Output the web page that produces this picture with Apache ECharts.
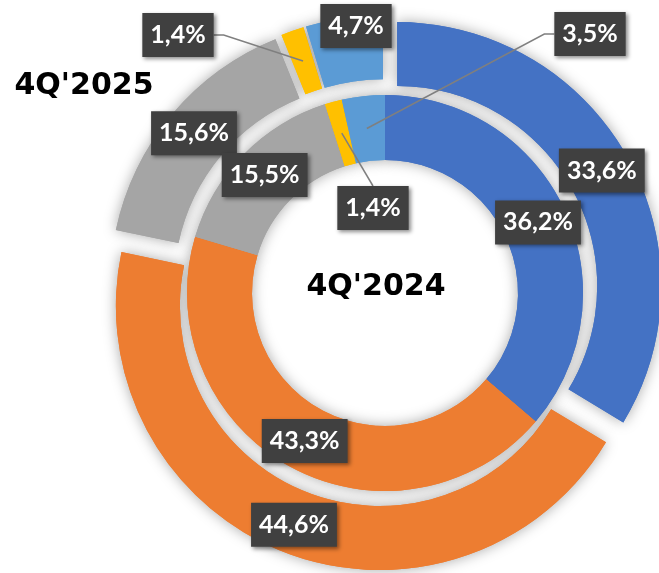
<!DOCTYPE html>
<html>
<head>
<meta charset="utf-8">
<script src="https://cdn.jsdelivr.net/npm/echarts@6/dist/echarts.min.js"></script>
<style>
  html, body { margin: 0; padding: 0; background: #ffffff; }
  #chart { width: 659px; height: 573px; }
</style>
</head>
<body>
<div id="chart"></div>
<script>
// ---- data ----
const categories = ['A', 'B', 'C', 'D', 'E'];
const colors = ['#4472C4', '#ED7D31', '#A5A5A5', '#FFC000', '#5B9BD5'];
const periods = ["4Q'2025", "4Q'2024"];
const values2025 = [33.6, 44.6, 15.6, 1.4, 4.7];   // outer ring
const values2024 = [36.2, 43.3, 15.5, 1.4, 3.5];   // inner ring

// ---- layout ----
const CENTER = [385, 293];
const INNER_R = [133, 198];
const OUTER_R = [200, 264];
const EXPLODE = 14;
// labels of thin slices are pulled out (optionally joined by a leader line)
const callouts = {
  outer: { 3: { at: [178, 35], side: 'right' }, 4: { at: [356, 26], side: 'none' } },
  inner: { 3: { at: [373, 208], side: 'top' }, 4: { at: [590, 34], side: 'left' } }
};

const fmt = v => v.toFixed(1).replace('.', ',') + '%';

function sliceMidPoint(values, idx, r) {
  const total = values.reduce((s, v) => s + v, 0);
  let cum = 0;
  for (let i = 0; i < idx; i++) cum += values[i];
  const a = (90 - (cum + values[idx] / 2) / total * 360) * Math.PI / 180;
  return [CENTER[0] + r * Math.cos(a), CENTER[1] - r * Math.sin(a)];
}

const labelStyle = {
  show: true,
  position: 'inside',
  formatter: p => fmt(p.value),
  color: '#ffffff',
  fontFamily: 'Lato',
  fontWeight: 'bold',
  fontSize: 25,
  lineHeight: 26,
  backgroundColor: '#404040',
  padding: [9, 8, 9, 8],
  shadowColor: 'rgba(0,0,0,0.45)',
  shadowBlur: 4,
  shadowOffsetX: 2,
  shadowOffsetY: 2
};

function layoutFor(ring, values, rMid) {
  return function (params) {
    const c = callouts[ring][params.dataIndex];
    if (!c) return { hideOverlap: false };
    const w = params.labelRect.width, h = params.labelRect.height;
    const anchor = sliceMidPoint(values, params.dataIndex, rMid);
    let end, knee;
    if (c.side === 'right') {
      end = [c.at[0] + w / 2, c.at[1]]; knee = [end[0] + 10, end[1]];
    } else if (c.side === 'left') {
      end = [c.at[0] - w / 2, c.at[1]]; knee = [end[0] - 10, end[1]];
    } else if (c.side === 'top') {
      end = [c.at[0], c.at[1] - h / 2]; knee = end;
    } else {
      end = anchor; knee = anchor;
    }
    return {
      x: c.at[0], y: c.at[1],
      align: 'center', verticalAlign: 'middle',
      hideOverlap: false,
      labelLinePoints: [anchor, knee, end]
    };
  };
}

const shadowStyle = {
  shadowBlur: 14,
  shadowColor: 'rgba(0,0,0,0.35)',
  shadowOffsetX: 0,
  shadowOffsetY: 0
};

const basePie = (name, radius, exploded) => ({
  type: 'pie',
  name: name,
  center: CENTER,
  radius: radius,
  startAngle: 90,
  clockwise: true,
  selectedMode: exploded ? 'multiple' : false,
  selectedOffset: EXPLODE,
  avoidLabelOverlap: false,
  animation: false,
  emphasis: { disabled: true }
});

// soft drop shadow under a ring
function shadowSeries(name, values, radius, exploded) {
  return Object.assign(basePie(name + ' shadow', radius, exploded), {
    silent: true, z: 1,
    itemStyle: shadowStyle,
    label: { show: false }, labelLine: { show: false },
    data: values.map((v, i) => ({ name: categories[i], value: v, selected: exploded, itemStyle: { color: colors[i] } }))
  });
}

// the coloured ring with its in-slice labels
function ringSeries(name, values, ring, radius, exploded) {
  return Object.assign(basePie(name, radius, exploded), {
    z: 2,
    itemStyle: { borderWidth: 0 },
    label: labelStyle,
    labelLine: { show: false },
    labelLayout: { hideOverlap: false },
    data: values.map((v, i) => ({
      name: categories[i], value: v, selected: exploded,
      itemStyle: { color: colors[i] },
      label: { show: !callouts[ring][i] }
    }))
  });
}

// unexploded, invisible copy of a ring that carries the pulled-out labels
function calloutSeries(name, values, ring, radius, exploded) {
  const rMid = (radius[0] + radius[1]) / 2 + (exploded ? EXPLODE : 0);
  return Object.assign(basePie(name + ' callouts', radius, false), {
    silent: true, z: 3,
    itemStyle: { color: 'rgba(0,0,0,0)' },
    label: labelStyle,
    labelLine: { show: false, lineStyle: { color: '#7F7F7F', width: 1.5 } },
    labelLayout: layoutFor(ring, values, rMid),
    data: values.map((v, i) => {
      const c = callouts[ring][i];
      return {
        name: categories[i], value: v,
        label: { show: !!c, position: 'outside' },
        labelLine: { show: !!c && c.side !== 'none' }
      };
    })
  });
}

const chart = echarts.init(document.getElementById('chart'), null, { renderer: 'canvas' });
chart.setOption({
  backgroundColor: '#ffffff',
  animation: false,
  graphic: [
    { type: 'text', x: 84, y: 86, z: 10,
      style: { text: periods[0], fill: '#000', font: 'bold 30px "DejaVu Sans"', align: 'center', verticalAlign: 'middle' } },
    { type: 'text', x: 376, y: 287, z: 10,
      style: { text: periods[1], fill: '#000', font: 'bold 30px "DejaVu Sans"', align: 'center', verticalAlign: 'middle' } }
  ],
  series: [
    shadowSeries(periods[0], values2025, OUTER_R, true),
    shadowSeries(periods[1], values2024, INNER_R, false),
    ringSeries(periods[0], values2025, 'outer', OUTER_R, true),
    ringSeries(periods[1], values2024, 'inner', INNER_R, false),
    calloutSeries(periods[0], values2025, 'outer', OUTER_R, true),
    calloutSeries(periods[1], values2024, 'inner', INNER_R, false)
  ]
});
</script>
</body>
</html>
